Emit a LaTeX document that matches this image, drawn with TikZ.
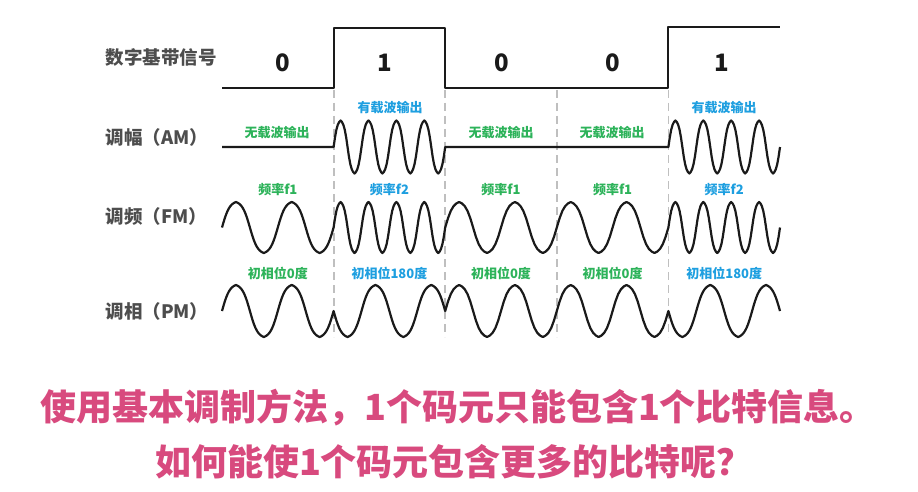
\documentclass[tikz,border=0pt]{standalone}
\usepackage{fontspec}
\setmainfont{Noto Sans CJK SC}
\definecolor{sigblack}{HTML}{1A1A1A}
\definecolor{labelgray}{HTML}{4D4D4D}
\definecolor{offgreen}{HTML}{2DB35A}
\definecolor{onblue}{HTML}{1E9FE0}
\definecolor{notepink}{HTML}{D84A7E}
\pgfmathdeclarefunction{carrier}{1}{\pgfmathparse{tanh(1.8*asin(sin(#1))/90)/0.9468}}
\tikzset{
  rowlabel/.style={anchor=west, text=labelgray, font=\fontsize{18.5}{18.5}\selectfont\bfseries},
  bitlabel/.style={text=sigblack, font=\fontsize{24}{24}\selectfont\bfseries},
  offnote/.style={text=offgreen, font=\fontsize{13}{13}\selectfont\bfseries},
  onnote/.style={text=onblue, font=\fontsize{13}{13}\selectfont\bfseries},
  signal/.style={line width=2pt, draw=sigblack, line join=round},
  wave/.style={line width=2.2pt, draw=sigblack, line join=round, samples=81},
  bitsep/.style={draw=gray!50, line width=1.8pt, dash pattern=on 8pt off 5pt},
  question/.style={text=notepink, font=\fontsize{36}{36}\selectfont\bfseries}
}
\begin{document}
\begin{tikzpicture}[x=1pt, y=-1pt]
  \useasboundingbox[fill=white] (0,0) rectangle (918,492);
  % row names
  \node[rowlabel] (base) at (102,57) {数字基带信号};
  \node[rowlabel] (am) at (102,137) {调幅（AM）};
  \node[rowlabel] (fm) at (102,216) {调频（FM）};
  \node[rowlabel] (pm) at (102,311) {调相（PM）};
  % bit boundaries
  \draw[bitsep] (333.6,90) -- (333.6,337);
  \draw[bitsep] (445.2,90) -- (445.2,337);
  \draw[bitsep] (556.8,90) -- (556.8,337);
  \draw[bitsep] (668.4,90) -- (668.4,337);
  % baseband signal 0 1 0 0 1
  \draw[signal] (222,88) -- (333.6,88) -- (333.6,28) -- (445.2,28) -- (445.2,88)
    -- (668.4,88) -- (668.4,27) -- (780,27);
  \node[bitlabel] (b1) at (283,63) {0};
  \node[bitlabel] (b2) at (385,63) {1};
  \node[bitlabel] (b3) at (502,63) {0};
  \node[bitlabel] (b4) at (613,63) {0};
  \node[bitlabel] (b5) at (722,63) {1};
  % AM
  \draw[wave] (222,147) -- (333.6,147)
    -- plot[domain=333.6:445.2] (\x,{147-26.5*carrier(1440*((\x-333.6)/111.6))})
    -- (668.4,147)
    -- plot[domain=668.4:780] (\x,{147-26.5*carrier(1440*((\x-668.4)/111.6))});
  \node[offnote] (am1) at (277,133) {无载波输出};
  \node[onnote] (am2) at (390,108) {有载波输出};
  \node[offnote] (am3) at (501,133) {无载波输出};
  \node[offnote] (am4) at (612,133) {无载波输出};
  \node[onnote] (am5) at (724,108) {有载波输出};
  % FM
  \draw[wave] plot[domain=222:333.6] (\x,{227.5-25.5*carrier(720*((\x-222)/111.6))})
    -- plot[domain=333.6:445.2] (\x,{227.5-25.5*carrier(1440*((\x-333.6)/111.6))})
    -- plot[domain=445.2:668.4] (\x,{227.5-25.5*carrier(720*((\x-445.2)/111.6))})
    -- plot[domain=668.4:780] (\x,{227.5-25.5*carrier(1440*((\x-668.4)/111.6))});
  \node[offnote] (fm1) at (277.8,190) {频率f1};
  \node[onnote] (fm2) at (389.4,190) {频率f2};
  \node[offnote] (fm3) at (501,190) {频率f1};
  \node[offnote] (fm4) at (612.6,190) {频率f1};
  \node[onnote] (fm5) at (724.2,190) {频率f2};
  % PM
  \draw[wave] plot[domain=222:333.6] (\x,{311-26*carrier(720*((\x-222)/111.6))})
    -- plot[domain=333.6:445.2] (\x,{311+26*carrier(720*((\x-333.6)/111.6))})
    -- plot[domain=445.2:668.4] (\x,{311-26*carrier(720*((\x-445.2)/111.6))})
    -- plot[domain=668.4:780] (\x,{311+26*carrier(720*((\x-668.4)/111.6))});
  \node[offnote] (pm1) at (277.8,273) {初相位0度};
  \node[onnote] (pm2) at (389.4,273) {初相位180度};
  \node[offnote] (pm3) at (501,273) {初相位0度};
  \node[offnote] (pm4) at (612.6,273) {初相位0度};
  \node[onnote] (pm5) at (724.2,273) {初相位180度};
  % question
  \node[question] (q1) at (458,408) {使用基本调制方法，1个码元只能包含1个比特信息。};
  \node[question] (q2) at (454,462) {如何能使1个码元包含更多的比特呢？};
\end{tikzpicture}
\end{document}
